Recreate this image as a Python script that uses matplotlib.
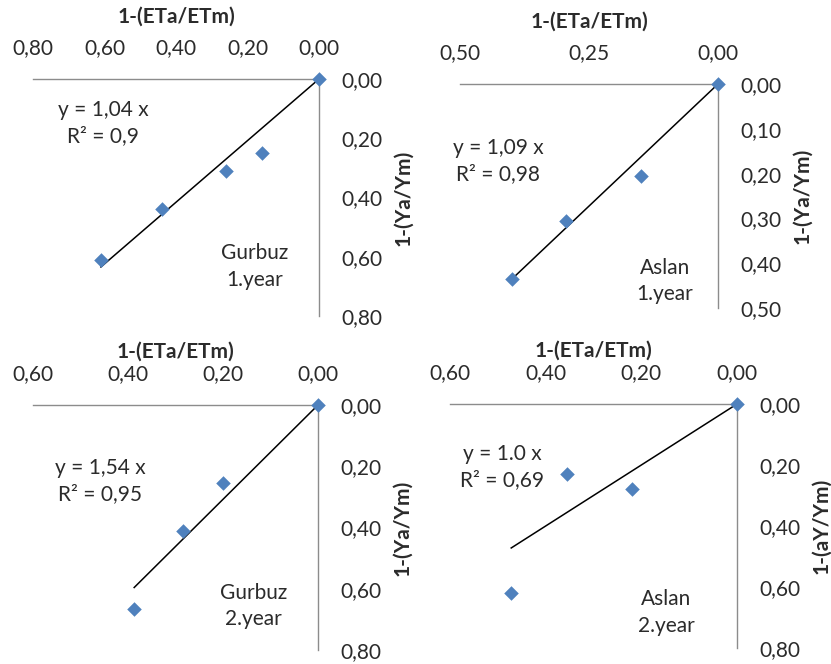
import numpy as np
import matplotlib
matplotlib.use('Agg')
import matplotlib.pyplot as plt
from matplotlib.ticker import FuncFormatter

plt.rcParams['font.family'] = ['Lato', 'DejaVu Sans']

# water stress (x) vs yield loss (y)
gurbuz1_x = [0.0, 0.16, 0.26, 0.44, 0.61]
gurbuz1_y = [0.0, 0.25, 0.31, 0.44, 0.61]
aslan1_x = [0.0, 0.15, 0.295, 0.40]
aslan1_y = [0.0, 0.205, 0.305, 0.435]
gurbuz2_x = [0.0, 0.20, 0.285, 0.387]
gurbuz2_y = [0.0, 0.255, 0.41, 0.665]
aslan2_x = [0.0, 0.22, 0.356, 0.472]
aslan2_y = [0.0, 0.28, 0.23, 0.62]

slopes = [1.04, 1.09, 1.54, 1.0]
eq_text = ['y = 1,04 x\nR² = 0,9', 'y = 1,09 x\nR² = 0,98',
           'y = 1,54 x\nR² = 0,95', 'y = 1.0 x\nR² = 0,69']
names = ['Gurbuz\n1.year', 'Aslan\n1.year', 'Gurbuz\n2.year', 'Aslan\n2.year']
ylabels = ['1-(Ya/Ym)', '1-(Ya/Ym)', '1-(Ya/Ym)', '1-(aY/Ym)']
xmax = [0.8, 0.5, 0.6, 0.6]
ymax = [0.8, 0.5, 0.8, 0.8]
xstep = [0.2, 0.25, 0.2, 0.2]
ystep = [0.2, 0.1, 0.2, 0.2]

xs = [gurbuz1_x, aslan1_x, gurbuz2_x, aslan2_x]
ys = [gurbuz1_y, aslan1_y, gurbuz2_y, aslan2_y]

boxes = [(33, 319, 79, 316), (460, 718, 84, 308),
         (33, 318, 405, 650), (450, 737, 404, 648)]
eq_pos = [(0.245, 0.814), (0.147, 0.656), (0.235, 0.69), (0.181, 0.743)]
name_pos = [(0.776, 0.209), (0.795, 0.12), (0.775, 0.18), (0.753, 0.145)]
xlabpad = [11, 11, 5, 5]

W, H = 831, 664
txt = '#2b2b2b'
blue = '#4F81BD'
fs = 15

fig = plt.figure(figsize=(W / 100, H / 100), dpi=100)

comma = FuncFormatter(lambda v, p: '{:.2f}'.format(v).replace('.', ','))

for i in range(4):
    l, r, t, b = boxes[i]
    ax = fig.add_axes([l / W, 1 - b / H, (r - l) / W, (b - t) / H])
    ax.set_xlim(xmax[i], 0)
    ax.set_ylim(ymax[i], 0)

    x = np.array(xs[i])
    ax.scatter(x, ys[i], marker='D', s=55, color=blue, zorder=4,
               clip_on=False, linewidths=0)
    # trendline through the origin
    xl = np.array([0, x.max()])
    ax.plot(xl, slopes[i] * xl, color='black', lw=1.1, zorder=3,
            clip_on=False)

    for s in ['left', 'bottom']:
        ax.spines[s].set_visible(False)
    for s in ['top', 'right']:
        ax.spines[s].set_color('#8c8c8c')
        ax.spines[s].set_linewidth(1.0)

    ax.xaxis.tick_top()
    ax.yaxis.tick_right()
    ax.set_xticks(np.arange(0, xmax[i] + 1e-9, xstep[i]))
    ax.set_yticks(np.arange(0, ymax[i] + 1e-9, ystep[i]))
    ax.xaxis.set_major_formatter(comma)
    ax.yaxis.set_major_formatter(comma)
    ax.tick_params(length=0, labelsize=fs, labelcolor=txt)
    ax.tick_params(axis='x', pad=15)
    ax.tick_params(axis='y', pad=16)

    ax.xaxis.set_label_position('top')
    ax.yaxis.set_label_position('right')
    ax.set_xlabel('1-(ETa/ETm)', fontsize=fs, fontweight='bold',
                  color=txt, labelpad=xlabpad[i])
    ax.set_ylabel(ylabels[i], fontsize=fs, fontweight='bold',
                  color=txt, labelpad=8)

    ax.text(*eq_pos[i], eq_text[i], transform=ax.transAxes, ha='center',
            va='center', fontsize=fs, color=txt, linespacing=1.4)
    ax.text(*name_pos[i], names[i], transform=ax.transAxes, ha='center',
            va='center', fontsize=fs, color=txt, linespacing=1.4)

fig.savefig('out.png', dpi=100)
